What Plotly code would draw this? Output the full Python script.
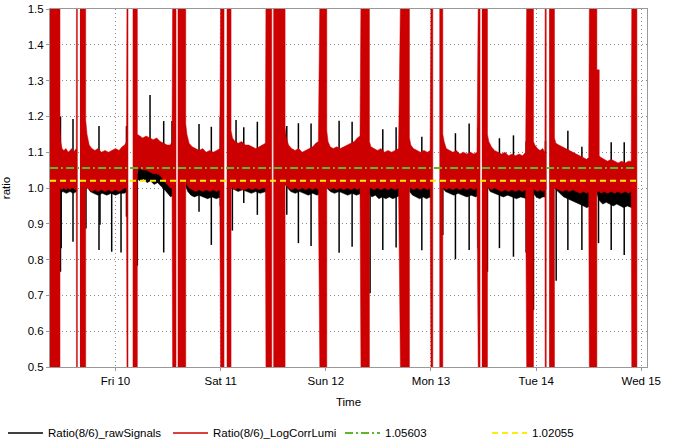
import plotly.graph_objects as go
import pandas as pd

# ---------------- data (time = hours since Thu 2011-06-09 00:00) ----------------
BASE = pd.Timestamp("2011-06-09 00:00")

# Ratio(8/6)_LogCorrLumi : envelope (upper / lower) of the noisy red signal; None = no data
red_t = [9.05, 11.33, 11.33, 11.5, 11.8, 12.2, 12.7, 13.2, 13.6, 14.0, 14.4, 14.8, 15.05, 15.1, 15.3, None,
         15.89, 17.2, 17.2, 17.5, 18.0, 18.6, 19.3, 20.0, 20.8, 21.6, 22.4, 23.2, 24.0, 24.8, 25.5, 26.1, 26.5, 26.63, 26.85, None,
         27.93, 28.98, 28.98, 29.5, 30.2, 31.0, 31.8, 32.6, 33.4, 34.2, 35.0, 35.8, 36.5, 36.9, 37.06, 37.81, None,
         38.2, 40.03, 40.03, 40.3, 40.8, 41.5, 42.3, 43.1, 43.9, 44.7, 45.5, 46.3, 47.1, 47.8, 48.02, 48.77, None,
         49.39, 50.37, 50.37, 50.7, 51.3, 52.0, 52.8, 53.6, 54.4, 55.2, 56.0, 56.8, 57.6, 58.2, 58.36, 59.66, None,
         60.03, 62.70, 62.70, 63.0, 63.5, 64.2, 65.0, 65.8, 66.6, 67.4, 68.2, 69.0, 69.7, 70.3, 70.69,
         72.22, 72.22, 72.5, 73.0, 73.7, 74.5, 75.3, 76.1, 76.9, 77.7, 78.5, 79.2, 79.8, 80.05,
         81.95, 81.95, 82.3, 83.0, 83.8, 84.6, 85.4, 86.2, 87.0, 87.8, 88.6, 89.11,
         91.08, 91.08, 91.4, 92.0, 92.8, 93.6, 94.4, 95.2, 95.8, 96.03, 96.42, None,
         97.93, 98.70, 98.70, 99.0, 99.5, 100.2, 101.0, 101.8, 102.6, 103.4, 104.2, 105.0, 105.8, 106.5, 106.83, 107.2, None,
         107.61, 108.89, 108.89, 109.2, 109.8, 110.5, 111.3, 112.1, 112.9, 113.7, 114.5, 115.3, 116.1, 116.9, 117.6, 117.88,
         119.39, 119.39, 119.7, 120.3, 120.9, 121.5, 122.0, 122.06, 122.3, None,
         122.97, 124.18, 124.18, 124.5, 125.2, 126.0, 126.8, 127.6, 128.4, 129.2, 130.0, 130.8, 131.5, 132.0, 132.17,
         133.86, 133.86, 134.4, 134.4, 134.8, 135.5, 136.3, 137.1, 137.9, 138.7, 139.5, 140.3, 141.1, 141.7, 141.85, 143.0]
red_hi = [1.6, 1.6, 1.17, 1.13, 1.11, 1.105, 1.11, 1.10, 1.105, 1.11, 1.10, 1.105, 1.11, 1.6, 1.6, None,
          1.6, 1.6, 1.19, 1.15, 1.12, 1.11, 1.105, 1.11, 1.10, 1.105, 1.10, 1.105, 1.11, 1.105, 1.115, 1.12, 1.13, 1.6, 1.6, None,
          1.6, 1.6, 1.15, 1.145, 1.14, 1.145, 1.14, 1.135, 1.14, 1.13, 1.125, 1.12, 1.12, 1.13, 1.6, 1.6, None,
          1.6, 1.6, 1.18, 1.15, 1.125, 1.115, 1.11, 1.105, 1.11, 1.10, 1.105, 1.10, 1.105, 1.11, 1.6, 1.6, None,
          1.6, 1.6, 1.16, 1.14, 1.13, 1.125, 1.13, 1.12, 1.12, 1.115, 1.11, 1.115, 1.12, 1.125, 1.6, 1.6, None,
          1.6, 1.6, 1.17, 1.14, 1.12, 1.11, 1.105, 1.11, 1.10, 1.105, 1.11, 1.115, 1.125, 1.13, 1.6,
          1.6, 1.16, 1.13, 1.115, 1.11, 1.115, 1.11, 1.115, 1.12, 1.125, 1.13, 1.14, 1.145, 1.6,
          1.6, 1.13, 1.115, 1.11, 1.105, 1.11, 1.10, 1.105, 1.10, 1.105, 1.11, 1.6,
          1.6, 1.14, 1.12, 1.11, 1.105, 1.10, 1.105, 1.10, 1.105, 1.6, 1.6, None,
          1.6, 1.6, 1.15, 1.13, 1.11, 1.105, 1.10, 1.105, 1.095, 1.10, 1.095, 1.10, 1.095, 1.10, 1.6, 1.6, None,
          1.6, 1.6, 1.15, 1.13, 1.115, 1.105, 1.10, 1.095, 1.10, 1.09, 1.095, 1.09, 1.095, 1.09, 1.10, 1.6,
          1.6, 1.13, 1.12, 1.11, 1.105, 1.11, 1.10, 1.6, 1.6, None,
          1.6, 1.6, 1.14, 1.125, 1.12, 1.115, 1.11, 1.105, 1.10, 1.095, 1.09, 1.085, 1.08, 1.085, 1.6,
          1.6, 1.33, 1.33, 1.09, 1.085, 1.08, 1.075, 1.08, 1.075, 1.07, 1.075, 1.07, 1.075, 1.075, 1.6, 1.6]
red_lo = [0.4, 0.4, 1.0, 1.0, 0.995, 1.0, 0.995, 1.0, 0.995, 1.0, 1.0, 0.995, 1.0, 0.4, 0.4, None,
          0.4, 0.4, 1.0, 1.0, 0.995, 0.99, 0.995, 0.99, 0.995, 0.99, 0.995, 0.99, 0.995, 0.99, 0.995, 1.0, 1.0, 0.4, 0.4, None,
          0.4, 0.4, 1.05, 1.055, 1.05, 1.05, 1.045, 1.04, 1.04, 1.035, 1.02, 1.01, 1.0, 1.0, 0.4, 0.4, None,
          0.4, 0.4, 1.02, 1.01, 1.0, 0.995, 0.99, 0.995, 0.99, 0.995, 0.99, 0.995, 0.99, 0.995, 0.4, 0.4, None,
          0.4, 0.4, 1.0, 1.0, 0.995, 1.0, 0.995, 0.995, 1.0, 0.995, 1.0, 0.995, 1.0, 1.0, 0.4, 0.4, None,
          0.4, 0.4, 1.01, 1.005, 1.0, 0.995, 1.0, 0.995, 1.0, 0.995, 1.0, 0.995, 1.0, 0.995, 0.4,
          0.4, 1.0, 1.0, 0.995, 1.0, 0.995, 1.0, 0.995, 1.0, 0.995, 1.0, 0.995, 1.0, 0.4,
          0.4, 1.0, 1.0, 0.995, 1.0, 0.995, 1.0, 0.995, 1.0, 0.995, 1.0, 0.4,
          0.4, 1.0, 1.0, 0.995, 1.0, 0.995, 1.0, 0.995, 1.0, 0.4, 0.4, None,
          0.4, 0.4, 1.0, 1.0, 0.995, 1.0, 0.995, 1.0, 0.995, 1.0, 0.995, 1.0, 0.995, 1.0, 0.4, 0.4, None,
          0.4, 0.4, 1.0, 1.0, 0.995, 1.0, 0.995, 0.99, 0.995, 0.99, 0.995, 0.99, 0.995, 0.99, 0.995, 0.4,
          0.4, 0.995, 0.995, 0.99, 0.995, 0.99, 0.995, 0.4, 0.4, None,
          0.4, 0.4, 1.0, 1.0, 0.995, 0.99, 0.995, 0.99, 0.995, 0.99, 0.985, 0.99, 0.985, 0.99, 0.4,
          0.4, 0.99, 0.99, 0.99, 0.985, 0.99, 0.985, 0.99, 0.985, 0.99, 0.985, 0.99, 0.985, 0.99, 0.4, 0.4]

# Ratio(8/6)_rawSignals : envelope of the black signal body; None = no data
black_t = [11.33, 12.0, 12.8, 13.6, 14.4, 15.1, None,
           17.26, 17.6, 18.2, 19.0, 20.0, 21.0, 22.0, 23.0, 24.0, 25.0, 26.0, 26.6, None,
           28.98, 29.6, 30.4, 31.2, 32.0, 32.8, 33.6, 34.4, 35.2, 36.0, 36.6, 37.06, None,
           40.03, 40.5, 41.2, 42.0, 43.0, 44.0, 45.0, 46.0, 47.0, 48.0, None,
           50.37, 51.0, 52.0, 53.0, 54.0, 55.0, 56.0, 57.0, 58.36, None,
           62.7, 63.3, 64.0, 65.0, 66.0, 67.0, 68.0, 69.0, 70.0, 70.69, None,
           72.22, 73.0, 74.0, 75.0, 76.0, 77.0, 78.0, 79.0, 80.05, None,
           81.95, 82.5, 83.3, 84.1, 84.9, 85.7, 86.5, 87.3, 88.1, 89.11, None,
           91.08, 91.8, 92.6, 93.4, 94.2, 95.0, 95.8, 96.03, None,
           98.7, 99.3, 100.2, 101.2, 102.2, 103.2, 104.2, 105.2, 106.2, 106.83, None,
           108.89, 109.5, 110.5, 111.5, 112.5, 113.5, 114.5, 115.5, 116.5, 117.88, None,
           119.39, 120.0, 120.8, 121.5, 122.06, None,
           124.18, 124.6, 125.4, 126.3, 127.2, 128.1, 129.0, 129.9, 130.8, 131.6, 132.17, None,
           133.86, 134.4, 135.2, 136.0, 136.8, 137.6, 138.4, 139.2, 140.0, 140.8, 141.85]
black_hi = [1.01, 1.01, 1.01, 1.01, 1.01, 1.01, None,
            1.05, 1.03, 1.01, 1.005, 1.0, 1.0, 1.0, 1.0, 1.0, 1.0, 1.0, 1.0, None,
            1.06, 1.06, 1.06, 1.055, 1.05, 1.045, 1.045, 1.04, 1.03, 1.02, 1.01, 1.01, None,
            1.03, 1.01, 1.0, 1.0, 1.0, 1.0, 1.0, 1.0, 1.0, 1.0, None,
            1.01, 1.01, 1.01, 1.01, 1.01, 1.01, 1.01, 1.01, 1.01, None,
            1.03, 1.02, 1.01, 1.0, 1.0, 1.0, 1.0, 1.0, 1.0, 1.0, None,
            1.01, 1.01, 1.01, 1.01, 1.01, 1.01, 1.01, 1.01, 1.01, None,
            1.0, 1.0, 1.0, 1.0, 1.0, 1.0, 1.0, 1.0, 1.0, 1.0, None,
            1.0, 1.0, 1.0, 1.0, 1.0, 1.0, 1.0, 1.0, None,
            1.01, 1.01, 1.01, 1.01, 1.01, 1.01, 1.01, 1.01, 1.01, 1.01, None,
            1.01, 1.01, 1.01, 1.01, 1.01, 1.01, 1.01, 1.01, 1.01, 1.01, None,
            1.0, 1.0, 1.0, 1.0, 1.0, None,
            1.01, 1.01, 1.01, 1.01, 1.01, 1.01, 1.01, 1.01, 1.01, 1.01, 1.01, None,
            1.0, 1.0, 1.0, 1.0, 1.0, 1.0, 1.0, 1.0, 1.0, 1.0, 1.0]
black_lo = [0.985, 0.99, 0.985, 0.99, 0.985, 0.99, None,
            1.02, 1.005, 0.99, 0.985, 0.98, 0.985, 0.98, 0.985, 0.98, 0.985, 0.985, 0.99, None,
            1.025, 1.02, 1.025, 1.015, 1.02, 1.01, 1.015, 1.005, 0.995, 0.985, 0.975, 0.98, None,
            1.005, 0.99, 0.98, 0.975, 0.98, 0.975, 0.97, 0.975, 0.97, 0.975, None,
            1.0, 0.995, 0.99, 0.995, 0.99, 0.985, 0.99, 0.985, 0.99, None,
            1.01, 1.0, 0.99, 0.985, 0.99, 0.985, 0.98, 0.985, 0.98, 0.985, None,
            1.0, 0.99, 0.985, 0.99, 0.985, 0.98, 0.985, 0.98, 0.985, None,
            0.985, 0.975, 0.98, 0.97, 0.975, 0.97, 0.975, 0.97, 0.975, 0.98, None,
            0.99, 0.98, 0.975, 0.97, 0.975, 0.97, 0.975, 0.975, None,
            1.0, 0.99, 0.985, 0.98, 0.985, 0.98, 0.975, 0.98, 0.975, 0.98, None,
            1.005, 0.99, 0.985, 0.98, 0.975, 0.98, 0.975, 0.97, 0.975, 0.97, None,
            0.985, 0.975, 0.97, 0.975, 0.975, None,
            1.0, 0.995, 0.985, 0.975, 0.97, 0.965, 0.96, 0.955, 0.95, 0.945, 0.95, None,
            0.985, 0.965, 0.955, 0.96, 0.955, 0.95, 0.955, 0.95, 0.945, 0.95, 0.945]

# isolated spikes of the raw signal (time, lowest value, highest value)
spike_t = [11.44, 11.6, 14.3, 17.26, 20.23, 20.46, 23.13, 25.26, 26.5, 28.98, 31.88, 35.0, 36.9,
           43.06, 45.87, 47.93, 50.67, 51.51, 53.27, 56.37, 58.52, 63.09, 65.74, 68.63, 70.69,
           75.03, 78.0, 80.28, 82.1, 85.0, 88.04, 89.87, 93.91, 98.7, 101.58, 104.71, 106.76,
           108.89, 111.62, 114.82, 117.72, 119.39, 122.13, 124.57, 127.24, 130.44, 132.33,
           134.23, 137.13, 140.1, 142.08]
spike_lo = [0.766, 0.832, 0.85, 0.887, 0.827, 0.897, 0.822, 0.82, 0.92, 0.783, 1.03, 0.82, 1.0,
            0.934, 0.841, 0.95, 0.881, 1.0, 0.958, 0.925, 1.0, 0.925, 0.846, 0.838, 0.832,
            0.819, 0.836, 1.0, 0.706, 0.827, 0.834, 1.0, 0.826, 0.869, 0.801, 0.827, 0.832,
            0.766, 0.832, 0.808, 0.82, 0.659, 1.0, 0.741, 0.827, 0.827, 1.0,
            0.846, 0.827, 0.813, 1.0]
spike_hi = [1.20, 1.0, 1.193, 1.0, 1.173, 1.0, 1.0, 1.0, 1.173, 1.04, 1.26, 1.187, 1.187,
            1.179, 1.171, 1.199, 1.0, 1.19, 1.17, 1.185, 1.204, 1.173, 1.181, 1.18, 1.182,
            1.188, 1.185, 1.207, 1.0, 1.164, 1.17, 1.168, 1.143, 1.0, 1.153, 1.18, 1.168,
            1.0, 1.139, 1.147, 1.13, 1.0, 1.131, 1.0, 1.16, 1.115, 1.14,
            1.0, 1.128, 1.128, 1.125]

# reference levels
level_names = ["1.05603", "1.02055"]
level_values = [1.05603, 1.02055]
level_t = [9.05, 143.0]

x_range_h = [9.05, 145.3]
day_ticks_h = [24, 48, 72, 96, 120, 144]
y_ticks = [0.5, 0.6, 0.7, 0.8, 0.9, 1.0, 1.1, 1.2, 1.3, 1.4, 1.5]

# ---------------- helpers ----------------
def to_time(hours):
    return [None if h is None else (BASE + pd.Timedelta(hours=h)).to_pydatetime() for h in hours]


def band(t, hi, lo):
    xs, ys, seg = [], [], []
    for ti, h, l in list(zip(t, hi, lo)) + [(None, None, None)]:
        if ti is None:
            if seg:
                xs += [s[0] for s in seg] + [s[0] for s in reversed(seg)] + [None]
                ys += [s[1] for s in seg] + [s[2] for s in reversed(seg)] + [None]
            seg = []
        else:
            seg.append((ti, h, l))
    return to_time(xs), ys


def spikes(t, lo, hi):
    xs, ys = [], []
    for ti, l, h in zip(t, lo, hi):
        xs += [ti, ti, None]
        ys += [l, h, None]
    return to_time(xs), ys


RED = "#cc0000"
GREEN = "#5cb82a"
YELLOW = "#ffee00"
FONT = "Liberation Sans, Arial, sans-serif"
FS = 11.5

fig = go.Figure()

bx, by = band(black_t, black_hi, black_lo)
fig.add_trace(go.Scatter(x=bx, y=by, mode="lines", fill="toself", fillcolor="black",
                         line=dict(color="black", width=0.5), showlegend=False, hoverinfo="skip"))
sx, sy = spikes(spike_t, spike_lo, spike_hi)
fig.add_trace(go.Scatter(x=sx, y=sy, mode="lines", line=dict(color="black", width=1.5),
                         name="Ratio(8/6)_rawSignals", legend="legend"))

rx, ry = band(red_t, red_hi, red_lo)
fig.add_trace(go.Scatter(x=rx, y=ry, mode="lines", fill="toself", fillcolor=RED,
                         line=dict(color=RED, width=0.5), showlegend=False, hoverinfo="skip"))
fig.add_trace(go.Scatter(x=[None], y=[None], mode="lines", line=dict(color=RED, width=1.5),
                         name="Ratio(8/6)_LogCorrLumi", legend="legend2"))

fig.add_trace(go.Scatter(x=to_time(level_t), y=[level_values[0]] * len(level_t), mode="lines",
                         line=dict(color=GREEN, width=2, dash="8px,3px,2px,3px"),
                         name=level_names[0], legend="legend3"))
fig.add_trace(go.Scatter(x=to_time(level_t), y=[level_values[1]] * len(level_t), mode="lines",
                         line=dict(color=YELLOW, width=2, dash="6px,4px"),
                         name=level_names[1], legend="legend4"))

leg_common = dict(orientation="h", xref="container", yref="container",
                  yanchor="middle", y=0.027, xanchor="left",
                  bgcolor="rgba(0,0,0,0)", font=dict(family=FONT, size=FS, color="black"),
                  itemwidth=35)
fig.update_layout(
    width=678, height=445,
    margin=dict(l=50, r=31, t=9, b=78),
    paper_bgcolor="white", plot_bgcolor="white",
    font=dict(family=FONT, size=FS, color="black"),
    legend=dict(x=0.0044, **leg_common),
    legend2=dict(x=0.2478, **leg_common),
    legend3=dict(x=0.5015, **leg_common),
    legend4=dict(x=0.7183, **leg_common),
)
grid = dict(showgrid=True, gridcolor="#8c8c8c", griddash="1px,3px", gridwidth=1,
            showline=True, linecolor="#999999", linewidth=1, mirror=True,
            ticks="outside", ticklen=3, tickcolor="#999999", zeroline=False, automargin=False)
fig.update_xaxes(type="date", range=to_time(x_range_h), tickmode="array",
                 tickvals=to_time(day_ticks_h), tickformat="%a %d",
                 title=dict(text="Time", standoff=12, font=dict(family=FONT, size=FS)), **grid)
fig.update_yaxes(range=[0.5, 1.5], tickmode="array", tickvals=y_ticks, tickformat=".1f",
                 title=dict(text="ratio", font=dict(family=FONT, size=FS)), **grid)

fig.write_html("out.html")
